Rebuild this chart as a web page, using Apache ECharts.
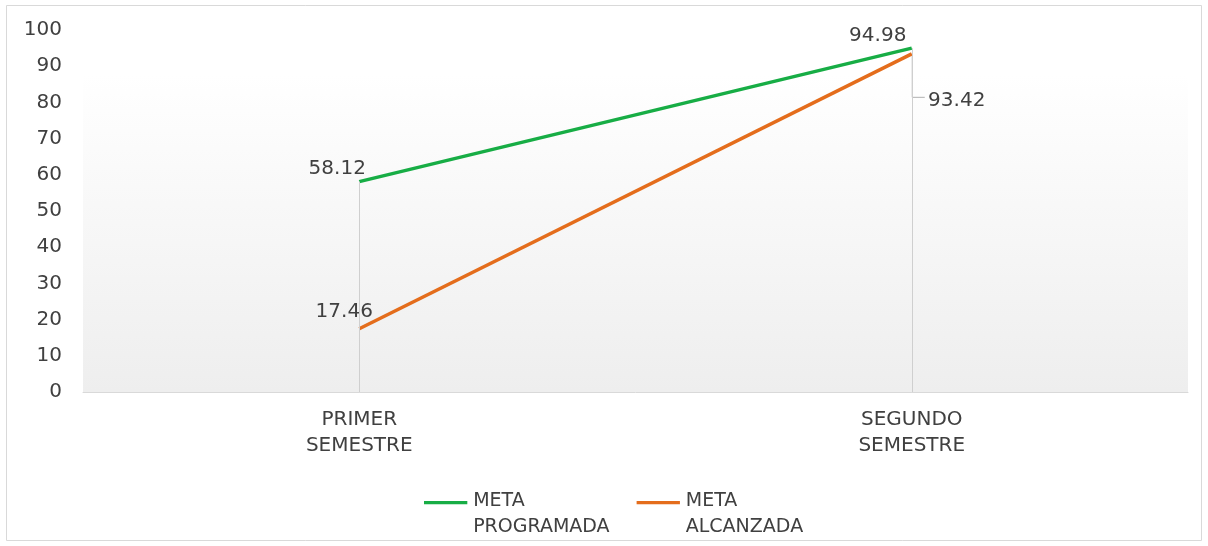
<!DOCTYPE html>
<html>
<head>
<meta charset="utf-8">
<script src="https://cdn.jsdelivr.net/npm/echarts@6/dist/echarts.min.js"></script>
<style>
  html, body { margin: 0; padding: 0; background: #fff; }
  #chart { width: 1208px; height: 546px; }
</style>
</head>
<body>
<div id="chart"></div>
<script>
  // datos de la grafica
  const categories = ['PRIMER\nSEMESTRE', 'SEGUNDO\nSEMESTRE'];
  const metaProgramada = [58.12, 94.98];
  const metaAlcanzada = [17.46, 93.42];
  const seriesNames = ['META\nPROGRAMADA', 'META\nALCANZADA'];
  const yTicks = { min: 0, max: 100, interval: 10 };

  const txt = '#404040';
  const font = 'DejaVu Sans';

  // lineas verticales desde el punto mas alto hasta el eje
  const dropLines = categories.map((c, i) => [
    { coord: [i, Math.max(metaProgramada[i], metaAlcanzada[i])] },
    { coord: [i, 0] }
  ]);

  const legendIcon = 'path://M0,0h40v3h-40z M0,24h0.01v0.01h-0.01z';

  let myChart = echarts.init(document.getElementById('chart'));
  myChart.setOption({
    backgroundColor: '#fff',
    animation: false,
    textStyle: { fontFamily: font },
    graphic: [{
      type: 'rect',
      shape: { x: 6.5, y: 5.5, width: 1195, height: 535 },
      style: { fill: 'none', stroke: '#d9d9d9', lineWidth: 1 },
      silent: true
    }],
    grid: {
      left: 83,
      right: 20,
      top: 30,
      bottom: 154,
      show: true,
      borderWidth: 0,
      backgroundColor: {
        type: 'linear', x: 0, y: 0, x2: 0, y2: 1,
        colorStops: [
          { offset: 0, color: '#ffffff' },
          { offset: 0.12, color: '#ffffff' },
          { offset: 1, color: '#eeeeee' }
        ]
      }
    },
    legend: {
      left: 419,
      top: 483,
      itemWidth: 45,
      itemHeight: 26,
      itemGap: 27,
      icon: legendIcon,
      data: seriesNames,
      textStyle: { color: txt, fontSize: 19, lineHeight: 26, fontFamily: font }
    },
    xAxis: {
      type: 'category',
      data: categories,
      axisLine: { lineStyle: { color: '#d9d9d9' } },
      axisTick: { show: false },
      axisLabel: { color: txt, fontSize: 20, lineHeight: 26, margin: 15 },
      splitLine: { show: false }
    },
    yAxis: {
      type: 'value',
      min: yTicks.min,
      max: yTicks.max,
      interval: yTicks.interval,
      axisLine: { show: false },
      axisTick: { show: false },
      splitLine: { show: false },
      axisLabel: { color: txt, fontSize: 20, margin: 21 }
    },
    series: [
      {
        name: seriesNames[0],
        type: 'line',
        data: metaProgramada,
        symbol: 'circle',
        symbolSize: 0.1,
        color: '#17ad45',
        lineStyle: { width: 3.5, color: '#17ad45' },
        z: 3,
        label: {
          show: true,
          position: 'top',
          color: txt,
          fontSize: 20,
          formatter: p => p.value.toFixed(2)
        },
        labelLayout: p => p.dataIndex === 0 ? { dx: -22, dy: 2 } : { dx: -34, dy: 3 },
        markLine: {
          silent: true,
          symbol: 'none',
          label: { show: false },
          lineStyle: { color: '#cfcfcf', width: 1, type: 'solid' },
          data: dropLines
        }
      },
      {
        name: seriesNames[1],
        type: 'line',
        data: metaAlcanzada,
        symbol: 'circle',
        symbolSize: 0.1,
        color: '#e46d1c',
        lineStyle: { width: 3.5, color: '#e46d1c' },
        z: 2,
        label: {
          show: true,
          position: 'top',
          color: txt,
          fontSize: 20,
          formatter: p => p.value.toFixed(2)
        },
        labelLayout: p => p.dataIndex === 0 ? { dx: -15, dy: -2 } : { dx: 45, dy: 62 }
      }
    ]
  });

  // linea guia de la etiqueta 93.42 (baja por la linea vertical y gira a la derecha)
  const pt = myChart.convertToPixel({ seriesIndex: 1 }, [1, metaAlcanzada[1]]);
  myChart.setOption({
    graphic: [{
      type: 'rect',
      shape: { x: 6.5, y: 5.5, width: 1195, height: 535 },
      style: { fill: 'none', stroke: '#d9d9d9', lineWidth: 1 },
      silent: true
    }, {
      type: 'polyline',
      shape: { points: [[pt[0] + 0.5, pt[1]], [pt[0] + 0.5, pt[1] + 43.5], [pt[0] + 13, pt[1] + 43.5]] },
      style: { fill: 'none', stroke: '#b0b0b0', lineWidth: 1 },
      silent: true,
      z: 1
    }]
  });
</script>
</body>
</html>
